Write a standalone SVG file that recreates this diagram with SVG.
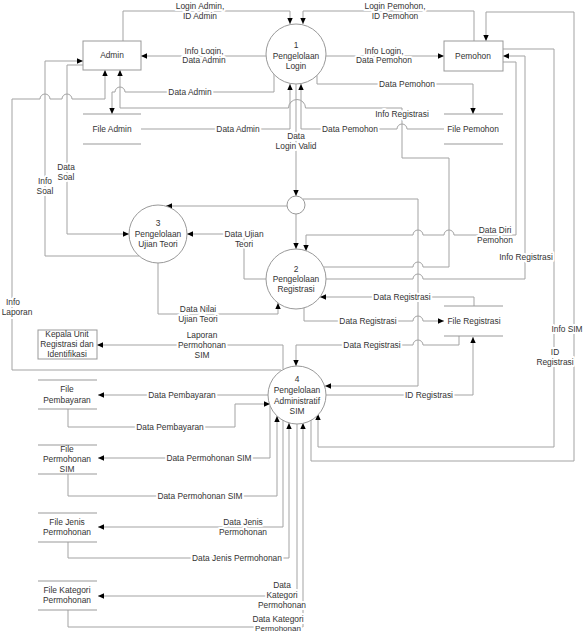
<svg xmlns="http://www.w3.org/2000/svg" width="585" height="633" viewBox="0 0 585 633">
<defs>
<marker id="ah" markerUnits="userSpaceOnUse" markerWidth="7" markerHeight="7" refX="6" refY="3" orient="auto"><path d="M0,0.3 L6,3 L0,5.7 z" fill="#000"/></marker>
<style>
.n{fill:#fff;stroke:#999;stroke-width:1}
.s{fill:none;stroke:#999;stroke-width:1}
.c{fill:none;stroke:#a3a3a3;stroke-width:1}
.a{marker-end:url(#ah)}
text{font-family:"Liberation Sans",Arial,sans-serif;font-size:8.4px;fill:#333;text-anchor:middle}
.l text{paint-order:stroke;stroke:#fff;stroke-width:4px;stroke-linejoin:round}
.l text.sm{font-size:8px}
</style>
</defs>
<rect width="585" height="633" fill="#fff"/>

<g id="connectors">
<path class="c a" d="M123,41 V11 H290 V24"/>
<path class="c a" d="M474,41 V11 H303 V24"/>
<path class="c a" d="M266,56 H141"/>
<path class="c a" d="M326,56 H444"/>
<path class="c a" d="M274,74 V92 H125 A5,5 0 0 0 115,92 H112 V114"/>
<path class="c a" d="M317,75 V84 H473 V114"/>
<path class="c a" d="M141,129 H290 V84"/>
<path class="c a" d="M444,129 H407 A5,5 0 0 0 397,129 H301 V84"/>
<path class="c a" d="M296,84 V196"/>
<path class="c a" d="M323.5,267 H413 A5,5 0 0 1 423,267 H449 V158 H402 V108 H305.5 A8.5,8.5 0 0 0 288.5,108 H120 V70"/>
<path class="c a" d="M281,370 H12 V99 H40 A5,5 0 0 1 50,99 H62 A5,5 0 0 1 72,99 H105 V70"/>
<path class="c a" d="M139,256 H45 V61 H83"/>
<path class="c a" d="M83,65 H67 V234 H129"/>
<path class="c a" d="M287,206 H166"/>
<path class="c a" d="M296,214 V249"/>
<path class="c a" d="M303,199 H418 V386 H325"/>
<path class="c a" d="M266,279 H244 V234 H187"/>
<path class="c a" d="M158,263 V314 H278 V303"/>
<path class="c a" d="M503,62 H516 V235 H454 A5,5 0 0 0 444,235 H423 A5,5 0 0 0 413,235 H306 V251"/>
<path class="c a" d="M326,279 H413 A5,5 0 0 1 423,279 H525 V56 H503"/>
<path class="c a" d="M474,306 V297 H320"/>
<path class="c a" d="M304,308 V321 H413 A5,5 0 0 1 423,321 H444"/>
<path class="c a" d="M459,336 V345 H423 A5,5 0 0 0 413,345 H296 V366"/>
<path class="c a" d="M326,395 H473 V337"/>
<path class="c a" d="M283,369 V345 H97"/>
<path class="c a" d="M503,49 H554 V447 H318 V414"/>
<path class="c a" d="M311,419 V461 H574 V12 H486 V41"/>
<path class="c a" d="M268,395 H98"/>
<path class="c a" d="M68,409 V427 H235 V404 H270"/>
<path class="c a" d="M270,406 V458 H98"/>
<path class="c a" d="M68,474 V496 H277 V416"/>
<path class="c a" d="M283,420 V527 H98"/>
<path class="c a" d="M68,542 V558 H289 V423"/>
<path class="c a" d="M297,424 V596 H98"/>
<path class="c a" d="M68,610 V627 H303 V423"/>
</g>

<g id="p1"><circle class="n" cx="296" cy="54" r="30"/><text x="296" y="48">1</text><text x="296" y="59">Pengelolaan</text><text x="296" y="69">Login</text></g>
<g id="p2"><circle class="n" cx="296" cy="279" r="30"/><text x="296" y="272">2</text><text x="296" y="282">Pengelolaan</text><text x="296" y="292">Registrasi</text></g>
<g id="p3"><circle class="n" cx="158" cy="234" r="29"/><text x="158" y="226">3</text><text x="158" y="237">Pengelolaan</text><text x="158" y="247">Ujian Teori</text></g>
<g id="p4"><circle class="n" cx="297" cy="395" r="29"/><text x="297" y="382">4</text><text x="297" y="393">Pengelolaan</text><text x="297" y="404">Administratif</text><text x="297" y="414">SIM</text></g>
<g id="junction"><circle class="n" cx="296" cy="205" r="9"/></g>

<g id="admin"><rect class="n" x="83" y="41" width="58" height="29"/><text x="112" y="58">Admin</text></g>
<g id="pemohon"><rect class="n" x="444" y="41" width="59" height="30"/><text x="473" y="59">Pemohon</text></g>
<g id="kepala"><rect class="n" x="38" y="330" width="59" height="29"/><text x="67" y="337">Kepala Unit</text><text x="67" y="347">Registrasi dan</text><text x="67" y="357">Identifikasi</text></g>

<g id="fileAdmin"><path class="s" d="M83,114 H141 M83,144 H141"/><text x="112" y="132">File Admin</text></g>
<g id="filePemohon"><path class="s" d="M444,114 H503 M444,144 H503"/><text x="473" y="132">File Pemohon</text></g>
<g id="fileRegistrasi"><path class="s" d="M444,306 H503 M444,336 H503"/><text x="474" y="324">File Registrasi</text></g>
<g id="filePembayaran"><path class="s" d="M38,380 H97 M38,409 H97"/><text x="67" y="392">File</text><text x="67" y="403">Pembayaran</text></g>
<g id="filePermohonanSIM"><path class="s" d="M38,445 H97 M38,474 H97"/><text x="67" y="452">File</text><text x="67" y="462">Permohonan</text><text x="67" y="472">SIM</text></g>
<g id="fileJenis"><path class="s" d="M38,513 H97 M38,542 H97"/><text x="67" y="525">File Jenis</text><text x="67" y="535">Permohonan</text></g>
<g id="fileKategori"><path class="s" d="M38,581 H97 M38,610 H97"/><text x="67" y="593">File Kategori</text><text x="67" y="603">Permohonan</text></g>

<g id="labels" class="l">
<text x="200" y="9">Login Admin,</text><text x="200" y="19">ID Admin</text>
<text x="395" y="9">Login Pemohon,</text><text x="395" y="19">ID Pemohon</text>
<text x="204" y="54">Info Login,</text><text x="204" y="63">Data Admin</text>
<text x="384" y="54">Info Login,</text><text x="384" y="63">Data Pemohon</text>
<text x="190" y="95">Data Admin</text>
<text x="407" y="87">Data Pemohon</text>
<text x="238" y="132">Data Admin</text>
<text x="350" y="132">Data Pemohon</text>
<text x="402" y="117">Info Registrasi</text>
<text x="296" y="139">Data</text><text x="296" y="149">Login Valid</text>
<text x="45" y="184">Info</text><text x="45" y="194">Soal</text>
<text x="66" y="170">Data</text><text x="66" y="180">Soal</text>
<text x="244" y="237">Data Ujian</text><text x="244" y="247">Teori</text>
<text x="495" y="233">Data Diri</text><text x="495" y="243">Pemohon</text>
<text x="526" y="260">Info Registrasi</text>
<text x="402" y="300">Data Registrasi</text>
<text x="368" y="324">Data Registrasi</text>
<text x="198" y="312">Data Nilai</text><text x="198" y="322">Ujian Teori</text>
<text x="13" y="305">Info</text><text x="17" y="315">Laporan</text>
<text x="202" y="338">Laporan</text><text x="202" y="348">Permohonan</text><text x="202" y="358">SIM</text>
<text x="372" y="348">Data Registrasi</text>
<text x="429" y="398">ID Registrasi</text>
<text x="555" y="355">ID</text><text x="555" y="365">Registrasi</text>
<text x="567" y="332">Info SIM</text>
<text x="182" y="398">Data Pembayaran</text>
<text x="170" y="430">Data Pembayaran</text>
<text x="209" y="461">Data Permohonan SIM</text>
<text x="200" y="499">Data Permohonan SIM</text>
<text x="243" y="525">Data Jenis</text><text x="243" y="535">Permohonan</text>
<text x="237" y="561">Data Jenis Permohonan</text>
<text x="282" y="588">Data</text><text x="282" y="598">Kategori</text><text x="282" y="608">Permohonan</text>
<text x="278" y="621.5">Data Kategori</text><text class="sm" x="278" y="631">Permohonan</text>
</g>
</svg>
